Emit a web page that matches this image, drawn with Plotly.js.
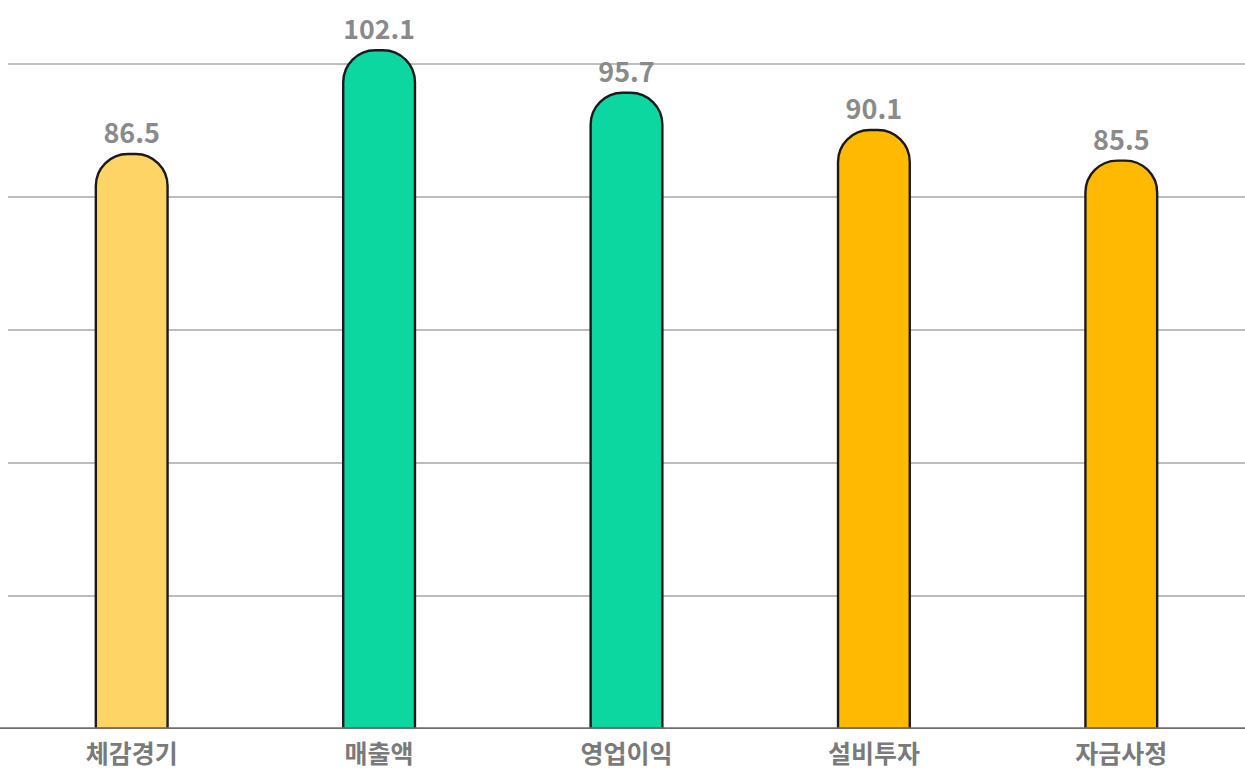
<!DOCTYPE html>
<html>
<head>
<meta charset="utf-8">
<script src="https://cdn.plot.ly/plotly-3.0.1.min.js"></script>
<style>
html,body{margin:0;padding:0;background:#fff;}
#chart{width:1245px;height:777px;}
</style>
</head>
<body>
<div id="chart"></div>
<script>
const categories = ["체감경기", "매출액", "영업이익", "설비투자", "자금사정"];
const values = [86.5, 102.1, 95.7, 90.1, 85.5];
const barColors = ["#FFD466", "#0CD7A1", "#0CD7A1", "#FFB900", "#FFB900"];
const valueLabels = values.map(v => v.toFixed(1));

const trace = {
  type: "bar",
  x: categories,
  y: values,
  text: valueLabels,
  textposition: "outside",
  cliponaxis: false,
  textfont: {family: "Noto Sans CJK KR, Noto Sans, sans-serif", size: 27, color: "#8a8a8a", weight: 700},
  marker: {color: barColors, line: {color: "#1a1a1a", width: 2.4}, cornerradius: 32},
  width: 0.29,
  hoverinfo: "skip"
};

const layout = {
  width: 1245,
  height: 777,
  margin: {l: 8, r: 0, t: 11, b: 48},
  paper_bgcolor: "#fff",
  plot_bgcolor: "#fff",
  showlegend: false,
  xaxis: {
    type: "category",
    showgrid: false,
    showline: false,
    zeroline: false,
    ticks: "",
    tickfont: {family: "Noto Sans CJK KR, sans-serif", size: 25, color: "#7a7a7a", weight: 700},
    ticklabelstandoff: 8
  },
  yaxis: {
    range: [0, 108],
    tickvals: [20, 40, 60, 80, 100],
    showticklabels: false,
    showgrid: true,
    gridcolor: "#bdbdbd",
    gridwidth: 1.5,
    zeroline: false,
    showline: false,
    ticks: ""
  },
  shapes: [{
    type: "line", xref: "paper", yref: "y",
    x0: -0.02, x1: 1, y0: 0, y1: 0,
    line: {color: "#6e6e6e", width: 3.5},
    layer: "above"
  }]
};

Plotly.newPlot("chart", [trace], layout, {displayModeBar: false, staticPlot: true});
</script>
</body>
</html>
